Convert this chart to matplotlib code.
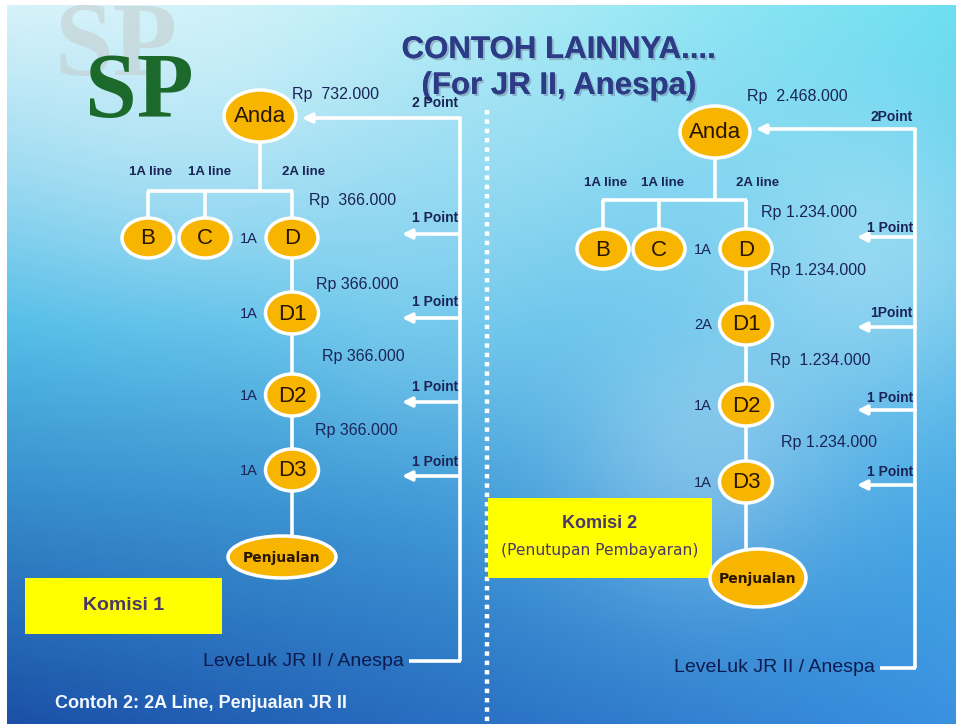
import matplotlib
matplotlib.use("Agg")
import matplotlib.pyplot as plt
import matplotlib.patheffects as pe
import numpy as np
from matplotlib.patches import Ellipse, Rectangle

plt.rcParams["font.family"] = ["Liberation Sans", "DejaVu Sans"]

# --- content -------------------------------------------------------------
title_lines = ["CONTOH LAINNYA....", "(For JR II, Anespa)"]
footer = "Contoh 2: 2A Line, Penjualan JR II"
level_label = "LeveLuk JR II / Anespa"

top_nodes = ["B", "C", "D"]
chain_nodes = ["D1", "D2", "D3"]
line_labels = ["1A line", "1A line", "2A line"]

# left example (Komisi 1)
left_amounts = ["Rp  732.000", "Rp  366.000", "Rp 366.000", "Rp 366.000", "Rp 366.000"]
left_points = ["2 Point", "1 Point", "1 Point", "1 Point", "1 Point"]
left_levels = ["1A", "1A", "1A", "1A"]          # D, D1, D2, D3
left_box = ["Komisi 1"]

# right example (Komisi 2)
right_amounts = ["Rp  2.468.000", "Rp 1.234.000", "Rp 1.234.000", "Rp  1.234.000", "Rp 1.234.000"]
right_points = ["2Point", "1 Point", "1Point", "1 Point", "1 Point"]
right_levels = ["1A", "2A", "1A", "1A"]
right_box = ["Komisi 2", "(Penutupan Pembayaran)"]

W, H = 956, 724
NAVY = "#1b2456"
NODE = "#f7b500"

fig = plt.figure(figsize=(W / 100, H / 100), dpi=100)
ax = fig.add_axes([0, 0, 1, 1])
ax.set_xlim(0, W)
ax.set_ylim(H, 0)
ax.axis("off")

# --- background ----------------------------------------------------------
yy, xx = np.mgrid[0:H, 0:W]
t = yy / H
s = xx / W


def hx(c):
    return np.array([int(c[i:i + 2], 16) / 255 for i in (1, 3, 5)])


stops = [(0.0, hx("#d3f1f9"), hx("#6adff0")),
         (0.45, hx("#49b9e6"), hx("#4cb8e8")),
         (1.0, hx("#1a4fa6"), hx("#3a92e0"))]
img = np.zeros((H, W, 3))
for (t0, l0, r0), (t1, l1, r1) in zip(stops[:-1], stops[1:]):
    m = (t >= t0) & (t <= t1)
    u = ((t - t0) / (t1 - t0))[..., None]
    c0 = l0 + (r0 - l0) * s[..., None]
    c1 = l1 + (r1 - l1) * s[..., None]
    c = c0 + (c1 - c0) * u
    img[m] = c[m]

for cx, cy, r, a in [(200, 90, 170, 0.35), (880, 260, 110, 0.35), (700, 450, 100, 0.3),
                     (560, 150, 160, 0.2), (420, 330, 90, 0.12)]:
    g = np.exp(-((xx - cx) ** 2 + (yy - cy) ** 2) / (2 * r ** 2))[..., None]
    img = img + (1 - img) * a * g
img[:5, :] = 1
img[:, :7] = 1
ax.imshow(np.clip(img, 0, 1), extent=[0, W, H, 0], zorder=0, aspect="auto")

# --- logo and title --------------------------------------------------------
ax.text(116, 50, "SP", fontsize=76, fontweight="bold", family="Liberation Serif",
        color="#c4cccc", alpha=0.55, ha="center", va="center", zorder=1)
ax.text(139, 94, "SP", fontsize=67, fontweight="bold", family="Liberation Serif",
        color="#1c6a2b", ha="center", va="center", zorder=2)
shadow = [pe.withSimplePatchShadow(offset=(1.5, -1.5), shadow_rgbFace="#6a7a90", alpha=0.45),
          pe.Normal()]
for i, line in enumerate(title_lines):
    ax.text(559, 50 + i * 36, line, fontsize=22.5, fontweight="bold", color="#2d3a86",
            ha="center", va="center", zorder=3, path_effects=shadow)

# separator
ax.plot([487, 487], [110, H], color="white", lw=3.2, ls=(0, (1, 1.1)), zorder=2)


def node(x, y, w, h, label, fs=16, family=None, weight="normal"):
    ax.add_patch(Ellipse((x, y), w, h, facecolor=NODE, edgecolor="white", lw=2.5, zorder=5))
    kw = {} if family is None else {"family": family}
    ax.text(x, y + 1, label, fontsize=fs, ha="center", va="center", color="#2a1600",
            fontweight=weight, zorder=6, **kw)


def wline(xs, ys):
    ax.plot(xs, ys, color="white", lw=2.6, solid_capstyle="butt", zorder=4)


def arrow(x0, x1, y):
    ax.annotate("", xy=(x1, y), xytext=(x0, y), zorder=4,
                arrowprops=dict(arrowstyle="-|>", color="white", lw=2.6,
                                mutation_scale=14, shrinkA=0, shrinkB=0))


def tree(L, amounts, points, levels, box):
    ax_, ay = L["anda"]
    bx = L["top_x"]
    ty = L["top_y"]
    cx = L["chain_x"]
    # connectors
    wline([ax_, ax_], [ay + L["anda_h"] / 2, L["bar_y"]])
    wline([bx[0] - 1, bx[2] + 1], [L["bar_y"], L["bar_y"]])
    for x in bx:
        wline([x, x], [L["bar_y"], ty - 18])
    wline([cx, cx], [ty, L["penj"][1] - L["penj_h"] / 2])
    # nodes
    node(ax_, ay, L["anda_w"], L["anda_h"], "Anda", fs=16)
    for x, lab in zip(bx, top_nodes):
        node(x, ty, 52, 40, lab, fs=16)
    for y, lab in zip(L["chain_y"], chain_nodes):
        node(cx, y, 53, 42, lab, fs=16)
    px, py = L["penj"]
    node(px, py, L["penj_w"], L["penj_h"], "Penjualan", fs=10, family="DejaVu Sans",
         weight="bold")
    # labels
    for x, lab in zip(L["line_lab_x"], line_labels):
        ax.text(x, L["line_lab_y"], lab, fontsize=9.5, fontweight="bold", color=NAVY,
                ha="center", va="center", zorder=6)
    for y, lab in zip([ty] + list(L["chain_y"]), levels):
        ax.text(cx - 34, y + 1, lab, fontsize=10.5, color=NAVY, ha="right", va="center",
                zorder=6)
    for (x, y), lab in zip(L["amount_xy"], amounts):
        ax.text(x, y, lab, fontsize=11.5, color=NAVY, ha="left", va="center", zorder=6)
    for (x, y), lab in zip(L["point_xy"], points):
        ax.text(x, y, lab, fontsize=10, fontweight="bold", color=NAVY, ha="right",
                va="center", zorder=6)
    # feedback arrows
    fx = L["feed_x"]
    ys = L["arrow_y"]
    wline([fx, fx], [ys[0] - 1.3, L["feed_bot"]])
    arrow(fx, L["anda_tip"], ys[0])
    for y in ys[1:]:
        arrow(fx, fx - 58, y)
    wline([L["level_x"] + 5, fx + 1.3], [L["feed_bot"], L["feed_bot"]])
    ax.text(L["level_x"], L["feed_bot"], level_label, fontsize=14, color="#0d1a4e",
            ha="right", va="center", zorder=6)
    # commission box
    x0, y0, bw, bh = L["box"]
    ax.add_patch(Rectangle((x0, y0), bw, bh, facecolor="#ffff00", edgecolor="none", zorder=3))
    if len(box) == 1:
        ax.text(x0 + bw / 2, y0 + bh / 2, box[0], fontsize=14, fontweight="bold",
                color="#4a3868", ha="center", va="center", zorder=6)
    else:
        ax.text(x0 + bw / 2, y0 + 26, box[0], fontsize=13, fontweight="bold",
                color="#4a3868", ha="center", va="center", zorder=6)
        ax.text(x0 + bw / 2, y0 + 53, box[1], fontsize=11.2, family="DejaVu Sans",
                color="#4a3868", ha="center", va="center", zorder=6)


left_layout = dict(
    anda=(260, 116), anda_w=72, anda_h=52, bar_y=191,
    top_x=[148, 205, 292], top_y=238, chain_x=292, chain_y=[313, 395, 470],
    penj=(282, 557), penj_w=108, penj_h=42,
    line_lab_x=[151, 210, 304], line_lab_y=172,
    amount_xy=[(292, 95), (309, 201), (316, 285), (322, 357), (315, 431)],
    point_xy=[(458, 103), (458, 218), (458, 302), (458, 387), (458, 462)],
    feed_x=460, arrow_y=[118, 234, 318, 402, 476], anda_tip=302, feed_bot=661,
    level_x=404, box=(25, 578, 197, 56),
)
right_layout = dict(
    anda=(715, 132), anda_w=70, anda_h=52, bar_y=200,
    top_x=[603, 659, 746], top_y=249, chain_x=746, chain_y=[324, 405, 482],
    penj=(758, 578), penj_w=96, penj_h=58,
    line_lab_x=[606, 663, 758], line_lab_y=183,
    amount_xy=[(747, 96), (761, 212), (770, 271), (770, 360), (781, 443)],
    point_xy=[(913, 117), (913, 228), (913, 313), (913, 398), (913, 472)],
    feed_x=915, arrow_y=[129, 237, 327, 410, 485], anda_tip=756, feed_bot=668,
    level_x=875, box=(488, 498, 224, 80),
)

tree(left_layout, left_amounts, left_points, left_levels, left_box)
tree(right_layout, right_amounts, right_points, right_levels, right_box)

ax.text(55, 703, footer, fontsize=13, fontweight="bold", color="#f4f8ff",
        ha="left", va="center", zorder=6)

fig.savefig("out.png", dpi=100)
